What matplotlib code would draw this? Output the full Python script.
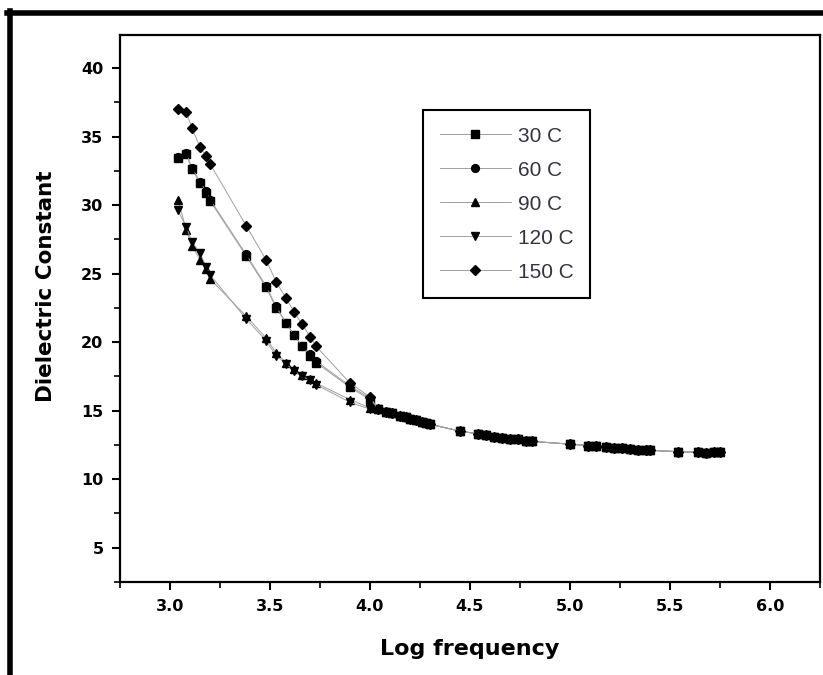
import matplotlib
matplotlib.use("Agg")
import matplotlib.pyplot as plt
from matplotlib.lines import Line2D
from matplotlib.ticker import MultipleLocator

plt.rcParams['font.family'] = ['DejaVu Sans']

# log frequency points (shared by all temperatures)
log_freq = [3.04, 3.08, 3.11, 3.15, 3.18, 3.20, 3.38, 3.48, 3.53, 3.58, 3.62, 3.66, 3.70, 3.73,
            3.90, 4.00, 4.04, 4.08, 4.11, 4.15, 4.18, 4.20, 4.23, 4.26, 4.28, 4.30,
            4.45, 4.54, 4.58, 4.62, 4.66, 4.70, 4.74, 4.78, 4.81,
            5.00, 5.09, 5.13, 5.18, 5.22, 5.26, 5.30, 5.34, 5.38, 5.40,
            5.54, 5.64, 5.68, 5.72, 5.75]

# high frequency tail, where all curves sit on top of each other
tail = [15.1, 14.9, 14.8, 14.6, 14.5, 14.4, 14.3, 14.2, 14.1, 14.0,
        13.5, 13.3, 13.2, 13.1, 13.0, 12.95, 12.9, 12.8, 12.75,
        12.55, 12.45, 12.4, 12.35, 12.3, 12.25, 12.2, 12.15, 12.1, 12.1,
        12.0, 11.95, 11.9, 11.95, 12.0]

eps_30 = [33.4, 33.7, 32.6, 31.6, 30.9, 30.3, 26.3, 24.0, 22.5, 21.4, 20.5, 19.7, 19.0, 18.5,
          16.7, 15.8] + tail
eps_60 = [33.5, 33.8, 32.7, 31.7, 31.0, 30.4, 26.4, 24.1, 22.6, 21.4, 20.5, 19.7, 19.1, 18.6,
          16.8, 15.9] + tail
eps_90 = [30.4, 28.2, 27.0, 26.0, 25.3, 24.6, 21.9, 20.3, 19.2, 18.5, 18.0, 17.6, 17.3, 17.0,
          15.8, 15.2] + tail
eps_120 = [29.6, 28.4, 27.3, 26.5, 25.5, 24.9, 21.7, 20.1, 19.0, 18.4, 17.9, 17.5, 17.2, 16.9,
           15.6, 15.1] + tail
eps_150 = [37.0, 36.8, 35.6, 34.2, 33.6, 33.0, 28.5, 26.0, 24.4, 23.2, 22.2, 21.3, 20.4, 19.7,
           17.0, 16.0] + tail

labels = ['30 C', '60 C', '90 C', '120 C', '150 C']
markers = ['s', 'o', '^', 'v', 'D']
series = [eps_30, eps_60, eps_90, eps_120, eps_150]

fig = plt.figure(figsize=(8.23, 6.75), dpi=100)
ax = fig.add_axes([0.146, 0.138, 0.850, 0.810])

for y, m, lab in zip(series, markers, labels):
    ms = 4.8 if m == 'D' else 5.6
    ax.plot(log_freq, y, color='#a0a0a0', linewidth=0.7, marker=m, markersize=ms,
            markerfacecolor='black', markeredgecolor='black', label=lab)

ax.set_xlim(2.75, 6.25)
ax.set_ylim(2.5, 42.4)
ax.xaxis.set_major_locator(MultipleLocator(0.5))
ax.xaxis.set_minor_locator(MultipleLocator(0.25))
ax.yaxis.set_major_locator(MultipleLocator(5))
ax.yaxis.set_minor_locator(MultipleLocator(2.5))
ax.set_yticks([5, 10, 15, 20, 25, 30, 35, 40])
ax.tick_params(which='major', direction='out', length=6, width=1.5, labelsize=11.5, pad=6)
ax.tick_params(which='minor', direction='out', length=4, width=1.2)
for lab in ax.get_xticklabels() + ax.get_yticklabels():
    lab.set_fontweight('bold')
for sp in ax.spines.values():
    sp.set_linewidth(1.6)

ax.set_xlabel('Log frequency', fontsize=16, fontweight='bold', labelpad=18)
ax.set_ylabel('Dielectric Constant', fontsize=15.5, fontweight='bold')
ax.yaxis.set_label_coords(-0.092, 0.54)

leg = ax.legend(loc='upper left', bbox_to_anchor=(0.433, 0.863),
                prop={'family': 'Liberation Sans', 'size': 15},
                handlelength=3.4, labelspacing=0.72, borderpad=0.8, borderaxespad=0,
                fancybox=False, framealpha=1, edgecolor='black', handletextpad=0.35)
leg.get_frame().set_linewidth(1.5)
for t in leg.get_texts():
    t.set_color('#333344')

# thick outer frame (top and left)
fig.add_artist(Line2D([0.009, 1.0], [0.981, 0.981], color='black', linewidth=4,
                      transform=fig.transFigure))
fig.add_artist(Line2D([0.012, 0.012], [0.0, 0.984], color='black', linewidth=4,
                      transform=fig.transFigure))

fig.savefig('out.png', dpi=100)
